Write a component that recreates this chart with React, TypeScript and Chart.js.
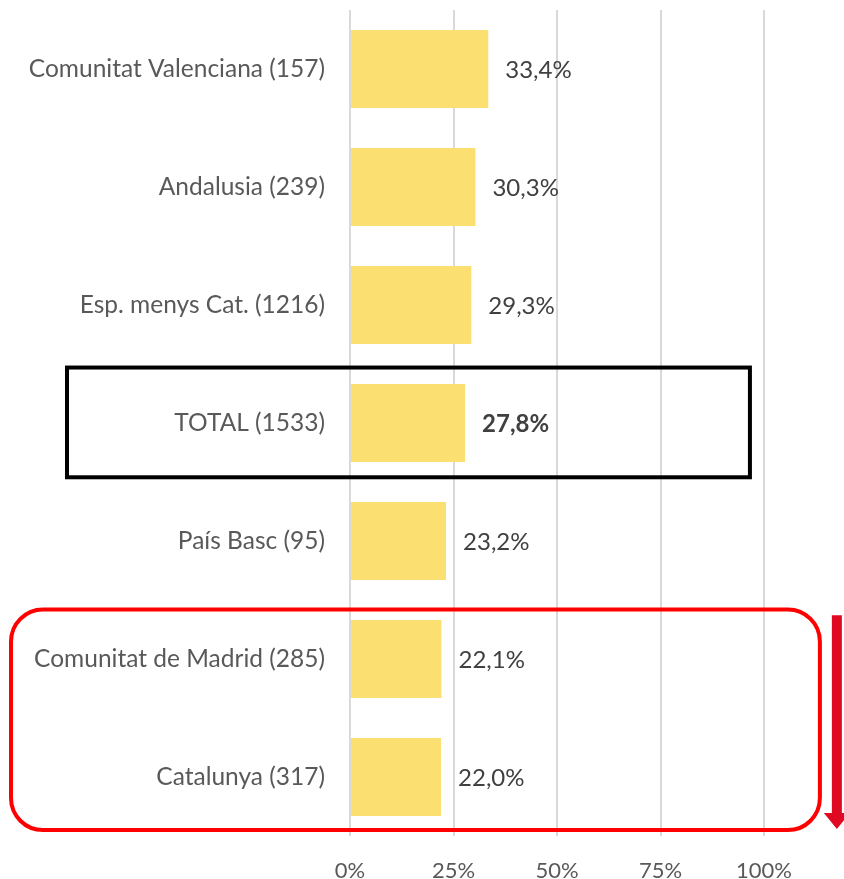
import React, { useEffect, useRef } from "react";
import { Chart, registerables } from "chart.js";

Chart.register(...registerables);

const categories = [
  "Comunitat Valenciana (157)",
  "Andalusia (239)",
  "Esp. menys Cat. (1216)",
  "TOTAL (1533)",
  "País Basc (95)",
  "Comunitat de Madrid (285)",
  "Catalunya (317)",
];
const values = [33.4, 30.3, 29.3, 27.8, 23.2, 22.1, 22.0];
const valueLabels = ["33,4%", "30,3%", "29,3%", "27,8%", "23,2%", "22,1%", "22,0%"];
const boldIndex = 3;
const xTicks = [0, 25, 50, 75, 100];
const redGroup = [5, 6];

const FONT = "Lato, 'Open Sans', sans-serif";

const overlayPlugin = {
  id: "overlay",
  afterDatasetsDraw(chart: any) {
    const { ctx, chartArea, scales } = chart;
    const x = scales.x;
    const y = scales.y;
    const band = Math.abs(y.getPixelForValue(1) - y.getPixelForValue(0));
    ctx.save();
    // value labels
    ctx.textBaseline = "middle";
    ctx.textAlign = "left";
    values.forEach((v, i) => {
      ctx.font = (i === boldIndex ? "bold " : "") + "24px " + FONT;
      ctx.fillStyle = "#404040";
      ctx.fillText(valueLabels[i], x.getPixelForValue(v) + 17, y.getPixelForValue(i) + 1);
    });
    // black box around TOTAL
    const cy = y.getPixelForValue(boldIndex);
    ctx.strokeStyle = "#000000";
    ctx.lineWidth = 4;
    ctx.strokeRect(chartArea.left - 283, cy - band * 0.47, 283 + x.getPixelForValue(96.6) - chartArea.left, band * 0.93);
    // red rounded box
    const top = y.getPixelForValue(redGroup[0]) - band * 0.42;
    const bottom = y.getPixelForValue(redGroup[1]) + band * 0.45;
    const left = chartArea.left - 339;
    const right = x.getPixelForValue(113.5);
    ctx.strokeStyle = "#FF0000";
    ctx.lineWidth = 4;
    ctx.beginPath();
    (ctx as any).roundRect(left, top, right - left, bottom - top, 32);
    ctx.stroke();
    // red arrow
    const ax = x.getPixelForValue(117.6);
    const aTop = y.getPixelForValue(redGroup[0]) - band * 0.37;
    const aBottom = bottom - 1;
    ctx.fillStyle = "#DF0A22";
    ctx.beginPath();
    ctx.moveTo(ax - 5, aTop);
    ctx.lineTo(ax + 5, aTop);
    ctx.lineTo(ax + 5, aBottom - 16);
    ctx.lineTo(ax + 13, aBottom - 16);
    ctx.lineTo(ax, aBottom);
    ctx.lineTo(ax - 13, aBottom - 16);
    ctx.lineTo(ax - 5, aBottom - 16);
    ctx.closePath();
    ctx.fill();
    ctx.restore();
  },
};

export default function App() {
  const ref = useRef<HTMLCanvasElement>(null);
  useEffect(() => {
    if (!ref.current) return;
    const chart = new Chart(ref.current, {
      type: "bar",
      data: {
        labels: categories,
        datasets: [
          {
            data: values,
            backgroundColor: "#FBE071",
            categoryPercentage: 1,
            barPercentage: 0.66,
          },
        ],
      },
      options: {
        indexAxis: "y",
        animation: false,
        responsive: false,
        maintainAspectRatio: false,
        layout: { autoPadding: false, padding: { top: 10, right: 80, left: 0, bottom: 0 } },
        plugins: { legend: { display: false }, tooltip: { enabled: false } },
        scales: {
          x: {
            min: 0,
            max: 100,
            afterBuildTicks: (s: any) => {
              s.ticks = xTicks.map((v) => ({ value: v }));
            },
            afterFit: (s: any) => {
              s.height = 43;
              s.paddingLeft = 0;
              s.paddingRight = 0;
            },
            ticks: {
              callback: (v: any) => v + "%",
              color: "#595959",
              font: { family: FONT, size: 22 },
              padding: 22,
              maxRotation: 0,
            },
            grid: { color: "#d9d9d9", lineWidth: 2, drawTicks: false },
            border: { display: false },
          },
          y: {
            afterFit: (s: any) => {
              s.width = 350;
              s.paddingTop = 0;
              s.paddingBottom = 0;
            },
            ticks: {
              color: "#595959",
              font: { family: FONT, size: 24.5 },
              padding: 25,
            },
            grid: { display: false, drawTicks: false },
            border: { display: false },
          },
        },
      },
      plugins: [overlayPlugin],
    });
    return () => chart.destroy();
  }, []);
  return (
    <div style={{ position: "absolute", left: 0, top: 0, width: 844, height: 879, background: "#fff" }}>
      <canvas ref={ref} width={844} height={879} style={{ display: "block" }} />
    </div>
  );
}
